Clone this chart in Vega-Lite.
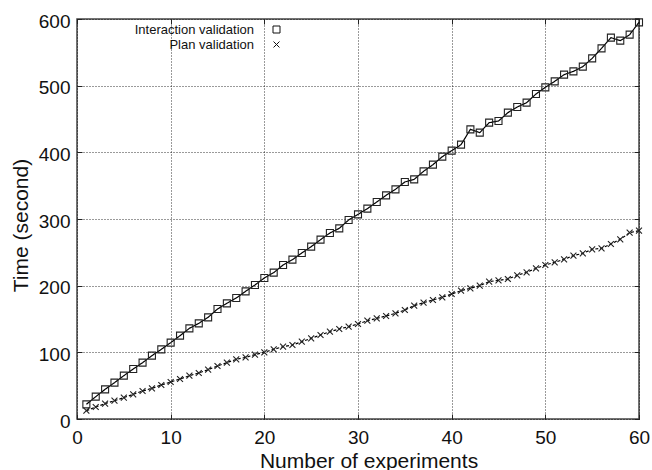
{
  "$schema": "https://vega.github.io/schema/vega-lite/v6.json",
  "width": 562,
  "height": 400,
  "autosize": {"type": "none"},
  "padding": {"left": 77, "top": 19, "right": 13, "bottom": 51},
  "background": "white",
  "config": {
    "view": {"stroke": "#444", "strokeWidth": 1.5},
    "font": "Liberation Sans",
    "axis": {
      "domain": false,
      "labelFont": "Liberation Sans",
      "titleFont": "Liberation Sans",
      "labelFontSize": 19,
      "titleFontSize": 21,
      "labelColor": "#111",
      "titleColor": "#111",
      "titleFontWeight": "normal",
      "labelFlush": false,
      "tickColor": "#222",
      "tickSize": -5,
      "tickWidth": 1,
      "gridColor": "#000",
      "gridDash": [1, 2],
      "gridWidth": 0.8,
      "gridOpacity": 1
    }
  },
  "data": {
    "values": [
      {"n": 1, "series": "Interaction validation", "time": 22},
      {"n": 2, "series": "Interaction validation", "time": 33.5},
      {"n": 3, "series": "Interaction validation", "time": 44.5},
      {"n": 4, "series": "Interaction validation", "time": 54.5},
      {"n": 5, "series": "Interaction validation", "time": 65},
      {"n": 6, "series": "Interaction validation", "time": 75},
      {"n": 7, "series": "Interaction validation", "time": 84.5},
      {"n": 8, "series": "Interaction validation", "time": 95},
      {"n": 9, "series": "Interaction validation", "time": 104.5},
      {"n": 10, "series": "Interaction validation", "time": 114.5},
      {"n": 11, "series": "Interaction validation", "time": 125},
      {"n": 12, "series": "Interaction validation", "time": 136},
      {"n": 13, "series": "Interaction validation", "time": 143.5},
      {"n": 14, "series": "Interaction validation", "time": 152.5},
      {"n": 15, "series": "Interaction validation", "time": 165},
      {"n": 16, "series": "Interaction validation", "time": 173.5},
      {"n": 17, "series": "Interaction validation", "time": 181.5},
      {"n": 18, "series": "Interaction validation", "time": 191.5},
      {"n": 19, "series": "Interaction validation", "time": 201},
      {"n": 20, "series": "Interaction validation", "time": 211.5},
      {"n": 21, "series": "Interaction validation", "time": 219.5},
      {"n": 22, "series": "Interaction validation", "time": 231},
      {"n": 23, "series": "Interaction validation", "time": 239},
      {"n": 24, "series": "Interaction validation", "time": 249},
      {"n": 25, "series": "Interaction validation", "time": 258.5},
      {"n": 26, "series": "Interaction validation", "time": 269},
      {"n": 27, "series": "Interaction validation", "time": 279},
      {"n": 28, "series": "Interaction validation", "time": 286},
      {"n": 29, "series": "Interaction validation", "time": 298.5},
      {"n": 30, "series": "Interaction validation", "time": 307},
      {"n": 31, "series": "Interaction validation", "time": 315.5},
      {"n": 32, "series": "Interaction validation", "time": 325.5},
      {"n": 33, "series": "Interaction validation", "time": 335.5},
      {"n": 34, "series": "Interaction validation", "time": 344.5},
      {"n": 35, "series": "Interaction validation", "time": 355.5},
      {"n": 36, "series": "Interaction validation", "time": 359.5},
      {"n": 37, "series": "Interaction validation", "time": 371.5},
      {"n": 38, "series": "Interaction validation", "time": 381.5},
      {"n": 39, "series": "Interaction validation", "time": 393.5},
      {"n": 40, "series": "Interaction validation", "time": 402.5},
      {"n": 41, "series": "Interaction validation", "time": 411.5},
      {"n": 42, "series": "Interaction validation", "time": 434.5},
      {"n": 43, "series": "Interaction validation", "time": 429.5},
      {"n": 44, "series": "Interaction validation", "time": 444.5},
      {"n": 45, "series": "Interaction validation", "time": 447},
      {"n": 46, "series": "Interaction validation", "time": 459.5},
      {"n": 47, "series": "Interaction validation", "time": 468},
      {"n": 48, "series": "Interaction validation", "time": 474.5},
      {"n": 49, "series": "Interaction validation", "time": 487.5},
      {"n": 50, "series": "Interaction validation", "time": 497.5},
      {"n": 51, "series": "Interaction validation", "time": 506.5},
      {"n": 52, "series": "Interaction validation", "time": 516.5},
      {"n": 53, "series": "Interaction validation", "time": 521.5},
      {"n": 54, "series": "Interaction validation", "time": 528.5},
      {"n": 55, "series": "Interaction validation", "time": 541},
      {"n": 56, "series": "Interaction validation", "time": 556},
      {"n": 57, "series": "Interaction validation", "time": 572},
      {"n": 58, "series": "Interaction validation", "time": 567.5},
      {"n": 59, "series": "Interaction validation", "time": 576.5},
      {"n": 60, "series": "Interaction validation", "time": 595},
      {"n": 1, "series": "Plan validation", "time": 12.5},
      {"n": 2, "series": "Plan validation", "time": 18},
      {"n": 3, "series": "Plan validation", "time": 23},
      {"n": 4, "series": "Plan validation", "time": 27.5},
      {"n": 5, "series": "Plan validation", "time": 32},
      {"n": 6, "series": "Plan validation", "time": 37},
      {"n": 7, "series": "Plan validation", "time": 42},
      {"n": 8, "series": "Plan validation", "time": 46},
      {"n": 9, "series": "Plan validation", "time": 51},
      {"n": 10, "series": "Plan validation", "time": 55.5},
      {"n": 11, "series": "Plan validation", "time": 60},
      {"n": 12, "series": "Plan validation", "time": 65},
      {"n": 13, "series": "Plan validation", "time": 69},
      {"n": 14, "series": "Plan validation", "time": 74},
      {"n": 15, "series": "Plan validation", "time": 79.5},
      {"n": 16, "series": "Plan validation", "time": 84.5},
      {"n": 17, "series": "Plan validation", "time": 89.5},
      {"n": 18, "series": "Plan validation", "time": 92.5},
      {"n": 19, "series": "Plan validation", "time": 96.5},
      {"n": 20, "series": "Plan validation", "time": 100},
      {"n": 21, "series": "Plan validation", "time": 104.5},
      {"n": 22, "series": "Plan validation", "time": 108.5},
      {"n": 23, "series": "Plan validation", "time": 111},
      {"n": 24, "series": "Plan validation", "time": 116},
      {"n": 25, "series": "Plan validation", "time": 121},
      {"n": 26, "series": "Plan validation", "time": 126},
      {"n": 27, "series": "Plan validation", "time": 131},
      {"n": 28, "series": "Plan validation", "time": 135},
      {"n": 29, "series": "Plan validation", "time": 138.5},
      {"n": 30, "series": "Plan validation", "time": 142.5},
      {"n": 31, "series": "Plan validation", "time": 147.5},
      {"n": 32, "series": "Plan validation", "time": 151},
      {"n": 33, "series": "Plan validation", "time": 154.5},
      {"n": 34, "series": "Plan validation", "time": 158.5},
      {"n": 35, "series": "Plan validation", "time": 163.5},
      {"n": 36, "series": "Plan validation", "time": 170},
      {"n": 37, "series": "Plan validation", "time": 174.5},
      {"n": 38, "series": "Plan validation", "time": 178.5},
      {"n": 39, "series": "Plan validation", "time": 182.5},
      {"n": 40, "series": "Plan validation", "time": 187.5},
      {"n": 41, "series": "Plan validation", "time": 192.5},
      {"n": 42, "series": "Plan validation", "time": 196},
      {"n": 43, "series": "Plan validation", "time": 200},
      {"n": 44, "series": "Plan validation", "time": 206},
      {"n": 45, "series": "Plan validation", "time": 208},
      {"n": 46, "series": "Plan validation", "time": 210},
      {"n": 47, "series": "Plan validation", "time": 215.5},
      {"n": 48, "series": "Plan validation", "time": 220},
      {"n": 49, "series": "Plan validation", "time": 226},
      {"n": 50, "series": "Plan validation", "time": 231},
      {"n": 51, "series": "Plan validation", "time": 235},
      {"n": 52, "series": "Plan validation", "time": 239.5},
      {"n": 53, "series": "Plan validation", "time": 245},
      {"n": 54, "series": "Plan validation", "time": 248.5},
      {"n": 55, "series": "Plan validation", "time": 254.5},
      {"n": 56, "series": "Plan validation", "time": 256},
      {"n": 57, "series": "Plan validation", "time": 262.5},
      {"n": 58, "series": "Plan validation", "time": 269.5},
      {"n": 59, "series": "Plan validation", "time": 279.5},
      {"n": 60, "series": "Plan validation", "time": 282.5}
    ]
  },
  "layer": [
    {
      "mark": {"type": "line", "color": "black", "strokeWidth": 1.2},
      "encoding": {
        "x": {
          "field": "n", "type": "quantitative",
          "scale": {"domain": [0, 60], "nice": false, "zero": false},
          "axis": {
            "orient": "bottom",
            "values": [0, 10, 20, 30, 40, 50, 60],
            "title": "Number of experiments",
            "grid": true,
            "labelBaseline": "alphabetic",
            "labelPadding": 29,
            "titleX": 291.5,
            "titleY": 48,
            "titleBaseline": "alphabetic"
          }
        },
        "y": {
          "field": "time", "type": "quantitative",
          "scale": {"domain": [0, 600], "nice": false},
          "axis": {
            "orient": "left",
            "values": [0, 100, 200, 300, 400, 500, 600],
            "title": "Time (second)",
            "grid": true,
            "labelPadding": 12,
            "labelOffset": 2,
            "titleX": -56,
            "titleY": 206,
            "titleBaseline": "middle"
          }
        },
        "detail": {"field": "series", "type": "nominal"},
        "strokeDash": {
          "field": "series", "type": "nominal",
          "scale": {"domain": ["Interaction validation", "Plan validation"], "range": [[1, 0], [3, 2]]},
          "legend": {
            "orient": "none",
            "legendX": 180,
            "legendY": 4,
            "title": null,
            "padding": 0,
            "symbolType": "stroke",
            "symbolSize": 1369,
            "symbolStrokeWidth": 1,
            "symbolStrokeColor": "#111",
            "clipHeight": 13,
            "labelFont": "Liberation Sans",
            "labelFontSize": 13,
            "labelColor": "#111",
            "labelAlign": "right",
            "labelBaseline": "middle",
            "labelOffset": -41,
            "labelLimit": 300,
            "rowPadding": 1,
            "symbolOffset": 0
          }
        }
      }
    },
    {
      "mark": {"type": "point", "filled": false, "stroke": "#222", "strokeWidth": 1.1, "size": 49, "opacity": 1},
      "encoding": {
        "x": {
          "field": "n", "type": "quantitative",
          "scale": {"domain": [0, 60], "nice": false, "zero": false},
          "axis": {"orient": "top", "values": [0, 10, 20, 30, 40, 50, 60], "labels": false, "grid": false, "title": null}
        },
        "y": {
          "field": "time", "type": "quantitative",
          "scale": {"domain": [0, 600], "nice": false},
          "axis": {"orient": "right", "values": [0, 100, 200, 300, 400, 500, 600], "labels": false, "grid": false, "title": null}
        },
        "shape": {
          "field": "series", "type": "nominal",
          "scale": {"range": ["square", "M-0.85,-0.85L0.85,0.85M-0.85,0.85L0.85,-0.85"]},
          "legend": {
            "orient": "none",
            "legendX": 193,
            "legendY": 4,
            "title": null,
            "padding": 0,
            "symbolSize": 49,
            "symbolStrokeWidth": 1,
            "symbolStrokeColor": "#111",
            "symbolOpacity": 1,
            "labelFontSize": 13,
            "labelOpacity": 0,
            "rowPadding": 1,
            "symbolOffset": 0
          }
        }
      }
    }
  ],
  "resolve": {"axis": {"x": "independent", "y": "independent"}}
}
